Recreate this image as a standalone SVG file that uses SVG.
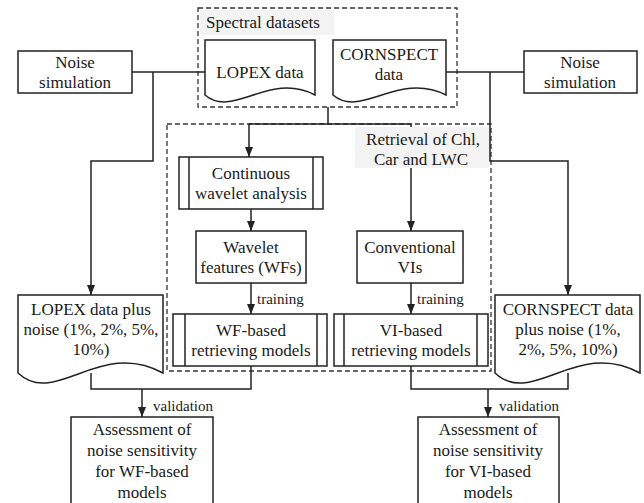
<svg xmlns="http://www.w3.org/2000/svg" width="644" height="503" viewBox="0 0 644 503">
<defs>
<style>
.b{fill:#fff;stroke:#222;stroke-width:1.5}
.d{fill:none;stroke:#333;stroke-width:1.3;stroke-dasharray:5 3}
.c{fill:none;stroke:#222;stroke-width:1.5}
.l{stroke:#222;stroke-width:1.5}
.lb{fill:#f3f3f3;stroke:none}
text{font-family:"Liberation Serif","Times New Roman",serif;font-size:17px;fill:#1a1a1a;text-anchor:middle}
.s{font-size:15px;text-anchor:start}
.st{text-anchor:start}
</style>
<marker id="ar" markerUnits="userSpaceOnUse" markerWidth="10" markerHeight="10" viewBox="0 0 10 10" refX="10" refY="5" orient="auto">
<path d="M0,1 L10,5 L0,9 Z" fill="#222"/>
</marker>
</defs>
<rect width="644" height="503" fill="#fff"/>

<g id="spectral-datasets-group">
<rect class="d" x="198" y="8" width="259" height="99"/>
<rect class="lb" x="200" y="10" width="134" height="25"/>
<text class="st" x="206" y="28">Spectral datasets</text>
</g>

<g id="retrieval-group">
<rect class="d" x="167" y="124" width="324" height="247"/>
</g>

<g id="connectors">
<path class="c" d="M132,72 H205"/>
<path class="c" d="M153,72 V161 H91 V295" marker-end="url(#ar)"/>
<path class="c" d="M446,72 H524"/>
<path class="c" d="M490,72 V161 H568 V295" marker-end="url(#ar)"/>
<path class="c" d="M328,107 V124"/>
<path class="c" d="M249,124 H411"/>
<path class="c" d="M249,124 V157" marker-end="url(#ar)"/>
<path class="c" d="M411,124 V231" marker-end="url(#ar)"/>
<path class="c" d="M251,209 V231" marker-end="url(#ar)"/>
<path class="c" d="M251,283 V314" marker-end="url(#ar)"/>
<path class="c" d="M411,283 V314" marker-end="url(#ar)"/>
<path class="c" d="M91,373 V389 H251 V366"/>
<path class="c" d="M142,389 V417" marker-end="url(#ar)"/>
<path class="c" d="M411,366 V389 H568 V373"/>
<path class="c" d="M488,389 V417" marker-end="url(#ar)"/>
<text class="s" x="257" y="304">training</text>
<text class="s" x="417" y="304">training</text>
<text class="s" x="153" y="411">validation</text>
<text class="s" x="499" y="411">validation</text>
</g>

<g id="retrieval-label">
<rect class="lb" x="355" y="127" width="134" height="41"/>
<text x="423" y="145">Retrieval of Chl,</text>
<text x="421" y="165">Car and LWC</text>
</g>

<g id="noise-sim-left">
<rect class="b" x="18" y="51" width="114" height="42"/>
<text x="75" y="68">Noise</text>
<text x="75" y="88">simulation</text>
</g>

<g id="noise-sim-right">
<rect class="b" x="524" y="51" width="113" height="42"/>
<text x="580" y="68">Noise</text>
<text x="580" y="88">simulation</text>
</g>

<g id="lopex-data">
<path class="b" d="M205,40 H315 V95 C269,71 233,119 205,95 Z"/>
<text x="260" y="78">LOPEX data</text>
</g>

<g id="cornspect-data">
<path class="b" d="M333,40 H446 V95 C398,71 361,119 333,95 Z"/>
<text x="389" y="60">CORNSPECT</text>
<text x="389" y="80">data</text>
</g>

<g id="cwa">
<rect class="b" x="179" y="157" width="144" height="52"/>
<line class="l" x1="189" y1="157" x2="189" y2="209"/>
<line class="l" x1="313" y1="157" x2="313" y2="209"/>
<text x="251" y="179">Continuous</text>
<text x="251" y="199">wavelet analysis</text>
</g>

<g id="wavelet-features">
<rect class="b" x="196" y="231" width="110" height="52"/>
<text x="251" y="253">Wavelet</text>
<text x="251" y="273">features (WFs)</text>
</g>

<g id="conventional-vis">
<rect class="b" x="357" y="231" width="106" height="52"/>
<text x="410" y="253">Conventional</text>
<text x="410" y="273">VIs</text>
</g>

<g id="wf-models">
<rect class="b" x="173" y="314" width="154" height="52"/>
<line class="l" x1="185" y1="314" x2="185" y2="366"/>
<line class="l" x1="317" y1="314" x2="317" y2="366"/>
<text x="251" y="336">WF-based</text>
<text x="251" y="356">retrieving models</text>
</g>

<g id="vi-models">
<rect class="b" x="334" y="314" width="154" height="52"/>
<line class="l" x1="344" y1="314" x2="344" y2="366"/>
<line class="l" x1="477" y1="314" x2="477" y2="366"/>
<text x="411" y="336">VI-based</text>
<text x="411" y="356">retrieving models</text>
</g>

<g id="lopex-noise">
<path class="b" d="M18,295 H163 V373 C100,338 55,408 18,373 Z"/>
<text x="91" y="315">LOPEX data plus</text>
<text x="91" y="335">noise (1%, 2%, 5%,</text>
<text x="91" y="355">10%)</text>
</g>

<g id="cornspect-noise">
<path class="b" d="M495,295 H640 V373 C577,338 532,408 495,373 Z"/>
<text x="568" y="315">CORNSPECT data</text>
<text x="568" y="335">plus noise (1%,</text>
<text x="568" y="355">2%, 5%, 10%)</text>
</g>

<g id="assess-wf">
<rect class="b" x="71" y="417" width="142" height="100"/>
<text x="142" y="435">Assessment of</text>
<text x="142" y="456">noise sensitivity</text>
<text x="142" y="477">for WF-based</text>
<text x="142" y="498">models</text>
</g>

<g id="assess-vi">
<rect class="b" x="418" y="417" width="141" height="100"/>
<text x="488" y="435">Assessment of</text>
<text x="488" y="456">noise sensitivity</text>
<text x="488" y="477">for VI-based</text>
<text x="488" y="498">models</text>
</g>
</svg>
